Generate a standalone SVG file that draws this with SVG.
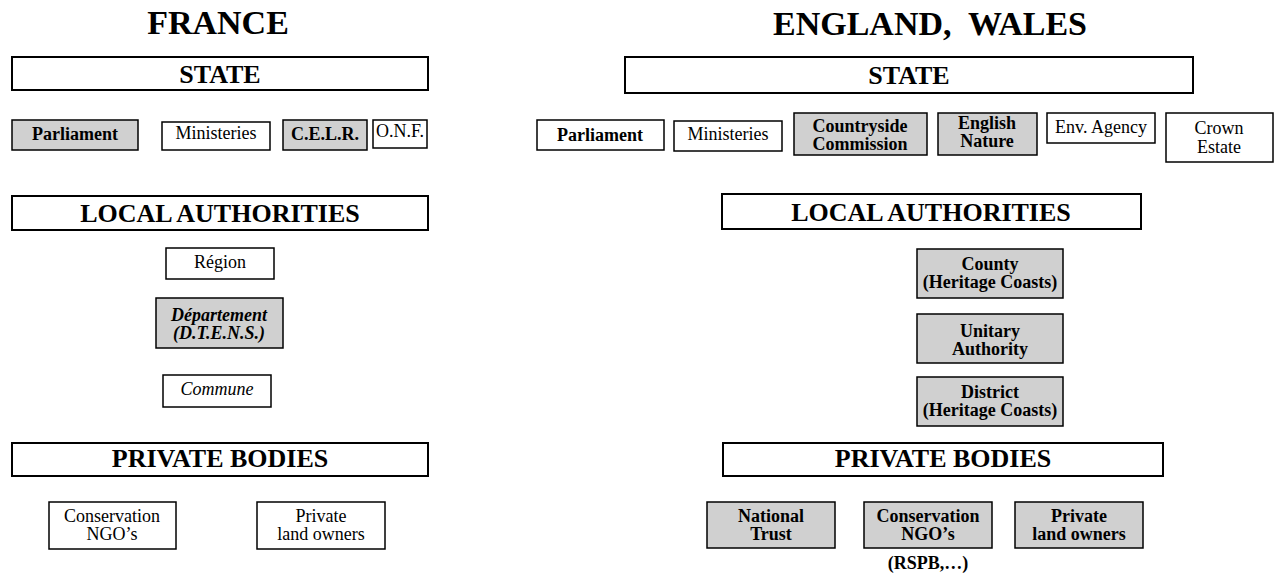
<svg xmlns="http://www.w3.org/2000/svg" width="1276" height="575" viewBox="0 0 1276 575">
<style>
text{font-family:"Liberation Serif","Times New Roman",serif;fill:#000;text-anchor:middle}
.title{font-size:34px;font-weight:bold}
.head{font-size:26px;font-weight:bold}
.t{font-size:18px}
.b{font-weight:bold}
.i{font-style:italic}
.big{fill:#fff;stroke:#000;stroke-width:2}
.w{fill:#fff;stroke:#000;stroke-width:1.5}
.g{fill:#d0d0d0;stroke:#000;stroke-width:1.5}
</style>
<rect width="1276" height="575" fill="#fff"/>
<g id="titles">
<text class="title" x="218" y="34">FRANCE</text>
<text class="title" x="930" y="35" xml:space="preserve">ENGLAND,  WALES</text>
</g>
<g id="connectors"></g>
<!-- FRANCE -->
<g id="fr-state"><rect class="big" x="12" y="57" width="416" height="33"/><text class="head" x="220" y="83">STATE</text></g>
<g id="fr-parliament"><rect class="g" x="12" y="120" width="126" height="30"/><text class="t b" x="75" y="140">Parliament</text></g>
<g id="fr-ministeries"><rect class="w" x="162" y="122" width="108" height="28"/><text class="t" x="216" y="139">Ministeries</text></g>
<g id="fr-celr"><rect class="g" x="283" y="120" width="84" height="30"/><text class="t b" x="325" y="140">C.E.L.R.</text></g>
<g id="fr-onf"><rect class="w" x="373" y="120" width="54" height="28"/><text class="t" x="400" y="137">O.N.F.</text></g>
<g id="fr-local"><rect class="big" x="12" y="196" width="416" height="34"/><text class="head" x="220" y="222">LOCAL AUTHORITIES</text></g>
<g id="fr-region"><rect class="w" x="166" y="248" width="108" height="31"/><text class="t" x="220" y="268">Région</text></g>
<g id="fr-departement"><rect class="g" x="156" y="298" width="127" height="50"/><text class="t b i" x="219" y="321">Département</text><text class="t b i" x="219" y="339">(D.T.E.N.S.)</text></g>
<g id="fr-commune"><rect class="w" x="163" y="375" width="108" height="32"/><text class="t i" x="217" y="395">Commune</text></g>
<g id="fr-private"><rect class="big" x="12" y="443" width="416" height="33"/><text class="head" x="220" y="467">PRIVATE BODIES</text></g>
<g id="fr-ngo"><rect class="w" x="49" y="502" width="127" height="47"/><text class="t" x="112" y="522">Conservation</text><text class="t" x="112" y="540">NGO’s</text></g>
<g id="fr-landowners"><rect class="w" x="257" y="502" width="128" height="47"/><text class="t" x="321" y="522">Private</text><text class="t" x="321" y="540">land owners</text></g>
<!-- ENGLAND -->
<g id="en-state"><rect class="big" x="625" y="57" width="568" height="36"/><text class="head" x="909" y="84">STATE</text></g>
<g id="en-parliament"><rect class="w" x="537" y="120" width="127" height="30"/><text class="t b" x="600" y="141">Parliament</text></g>
<g id="en-ministeries"><rect class="w" x="674" y="121" width="108" height="30"/><text class="t" x="728" y="140">Ministeries</text></g>
<g id="en-countryside"><rect class="g" x="794" y="113" width="133" height="42"/><text class="t b" x="860" y="132">Countryside</text><text class="t b" x="860" y="150">Commission</text></g>
<g id="en-englishnature"><rect class="g" x="938" y="113" width="99" height="42"/><text class="t b" x="987" y="129">English</text><text class="t b" x="987" y="147">Nature</text></g>
<g id="en-envagency"><rect class="w" x="1047" y="113" width="108" height="30"/><text class="t" x="1101" y="133">Env. Agency</text></g>
<g id="en-crown"><rect class="w" x="1166" y="113" width="107" height="49"/><text class="t" x="1219" y="134">Crown</text><text class="t" x="1219" y="153">Estate</text></g>
<g id="en-local"><rect class="big" x="722" y="194" width="419" height="35"/><text class="head" x="931" y="221">LOCAL AUTHORITIES</text></g>
<g id="en-county"><rect class="g" x="917" y="249" width="146" height="49"/><text class="t b" x="990" y="270">County</text><text class="t b" x="990" y="288">(Heritage Coasts)</text></g>
<g id="en-unitary"><rect class="g" x="917" y="314" width="146" height="49"/><text class="t b" x="990" y="337">Unitary</text><text class="t b" x="990" y="355">Authority</text></g>
<g id="en-district"><rect class="g" x="917" y="377" width="146" height="49"/><text class="t b" x="990" y="398">District</text><text class="t b" x="990" y="416">(Heritage Coasts)</text></g>
<g id="en-private"><rect class="big" x="723" y="443" width="440" height="33"/><text class="head" x="943" y="467">PRIVATE BODIES</text></g>
<g id="en-nationaltrust"><rect class="g" x="707" y="502" width="128" height="46"/><text class="t b" x="771" y="522">National</text><text class="t b" x="771" y="540">Trust</text></g>
<g id="en-ngo"><rect class="g" x="864" y="502" width="128" height="46"/><text class="t b" x="928" y="522">Conservation</text><text class="t b" x="928" y="540">NGO’s</text><text class="t b" x="928" y="569">(RSPB,…)</text></g>
<g id="en-landowners"><rect class="g" x="1015" y="502" width="128" height="46"/><text class="t b" x="1079" y="522">Private</text><text class="t b" x="1079" y="540">land owners</text></g>
</svg>
